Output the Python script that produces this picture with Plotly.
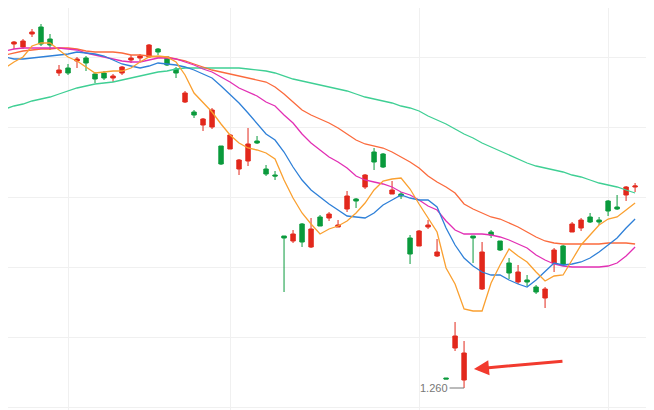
import numpy as np
import plotly.graph_objects as go

# prices in thousandths
opens = [1583, 1604, 1601, 1614, 1621, 1609, 1575, 1580, 1587, 1590,
         1574, 1575, 1570, 1575, 1588, 1590, 1591, 1599, 1591, 1579,
         1546, 1536, 1523, 1521, 1502, 1499, 1479, 1487, 1507, 1479,
         1473, 1412, 1407, 1424, 1401, 1431, 1430, 1421, 1439, 1449,
         1461, 1496, 1494, 1454, 1454, 1410, 1402, 1421, 1392, 1270,
         1300, 1268, 1412, 1359, 1416, 1407, 1385, 1366, 1368, 1361,
         1350, 1385, 1402, 1416, 1420, 1431, 1428, 1447, 1441, 1453, 1461]
highs = [1591, 1607, 1609, 1619, 1624, 1614, 1583, 1584, 1591, 1592,
         1576, 1577, 1574, 1582, 1593, 1594, 1604, 1600, 1591, 1581,
         1557, 1538, 1530, 1540, 1502, 1514, 1489, 1520, 1512, 1483,
         1477, 1412, 1418, 1425, 1430, 1433, 1436, 1428, 1457, 1450,
         1474, 1500, 1495, 1467, 1456, 1413, 1418, 1428, 1409, 1270,
         1326, 1307, 1412, 1406, 1418, 1407, 1390, 1383, 1373, 1363,
         1361, 1400, 1403, 1426, 1430, 1435, 1431, 1448, 1453, 1462, 1465]
lows = [1580, 1599, 1599, 1611, 1602, 1598, 1572, 1573, 1580, 1577,
        1565, 1568, 1566, 1573, 1585, 1587, 1590, 1593, 1582, 1570,
        1545, 1530, 1517, 1519, 1483, 1499, 1473, 1482, 1504, 1472,
        1468, 1356, 1405, 1401, 1400, 1422, 1427, 1421, 1436, 1440,
        1459, 1478, 1480, 1454, 1449, 1384, 1402, 1419, 1391, 1269,
        1297, 1260, 1385, 1358, 1410, 1397, 1369, 1364, 1362, 1354,
        1340, 1376, 1382, 1416, 1417, 1425, 1423, 1432, 1438, 1447, 1456]
closes = [1591, 1606, 1607, 1616, 1604, 1603, 1578, 1575, 1589, 1585,
          1569, 1570, 1572, 1581, 1590, 1592, 1603, 1596, 1583, 1575,
          1555, 1533, 1529, 1538, 1484, 1513, 1488, 1504, 1505, 1474,
          1472, 1410, 1414, 1406, 1419, 1422, 1434, 1423, 1452, 1447,
          1473, 1486, 1481, 1458, 1452, 1394, 1417, 1423, 1396, 1269,
          1312, 1295, 1410, 1396, 1413, 1398, 1375, 1376, 1366, 1356,
          1359, 1398, 1383, 1424, 1428, 1426, 1426, 1437, 1439, 1461, 1462]

ma5 = [1580, 1586, 1591, 1602, 1605, 1605, 1598, 1591, 1587, 1581,
       1575, 1576, 1577, 1577, 1580, 1586, 1591, 1592, 1591, 1586,
       1573, 1555, 1545, 1536, 1524, 1513, 1505, 1500, 1498, 1495,
       1489, 1468, 1450, 1435, 1424, 1414, 1419, 1422, 1427, 1435,
       1445, 1458, 1467, 1469, 1470, 1459, 1444, 1430, 1416, 1380,
       1364, 1339, 1337, 1337, 1365, 1383, 1399, 1392, 1386, 1376,
       1367, 1372, 1373, 1388, 1403, 1413, 1423, 1429, 1431, 1438, 1445]
ma10 = [1591, 1589, 1589, 1590, 1591, 1592, 1593, 1594, 1596, 1595,
        1594, 1592, 1588, 1584, 1582, 1580, 1582, 1585, 1584, 1583,
        1581, 1578, 1574, 1570, 1562, 1554, 1545, 1535, 1524, 1514,
        1508, 1496, 1481, 1468, 1458, 1451, 1444, 1438, 1432, 1431,
        1430, 1435, 1443, 1448, 1453, 1450, 1448, 1448, 1441, 1420,
        1403, 1390, 1382, 1376, 1373, 1373, 1368, 1364, 1361, 1368,
        1376, 1385, 1383, 1384, 1386, 1390, 1396, 1403, 1410, 1420, 1429]
ma20 = [1597, 1599, 1600, 1600, 1600, 1600, 1600, 1599, 1598, 1595,
        1593, 1591, 1589, 1587, 1586, 1586, 1588, 1590, 1590, 1589,
        1586, 1583, 1579, 1576, 1571, 1566, 1560, 1556, 1552, 1546,
        1542, 1533, 1525, 1514, 1505, 1498, 1491, 1486, 1480, 1472,
        1468, 1466, 1464, 1461, 1456, 1453, 1448, 1442, 1438, 1427,
        1418, 1414, 1414, 1414, 1413, 1411, 1408, 1404, 1400, 1393,
        1388, 1384, 1382, 1381, 1381, 1381, 1381, 1382, 1385, 1392, 1401]
ma30 = [1593, 1595, 1597, 1598, 1599, 1599, 1600, 1600, 1599, 1597,
        1596, 1596, 1596, 1595, 1593, 1593, 1592, 1591, 1591, 1589,
        1587, 1584, 1581, 1578, 1576, 1574, 1572, 1570, 1568, 1566,
        1561, 1554, 1546, 1538, 1533, 1529, 1525, 1520, 1514, 1508,
        1504, 1502, 1500, 1496, 1491, 1486, 1480, 1472, 1466, 1461,
        1455, 1444, 1439, 1435, 1431, 1429, 1425, 1421, 1416, 1411,
        1407, 1405, 1404, 1404, 1404, 1404, 1404, 1405, 1405, 1405, 1404]
ma60 = [1539, 1542, 1544, 1547, 1549, 1551, 1554, 1557, 1560, 1562,
        1564, 1565, 1566, 1568, 1570, 1572, 1574, 1576, 1577, 1579,
        1580, 1580, 1580, 1580, 1580, 1580, 1580, 1579, 1578, 1577,
        1575, 1572, 1569, 1567, 1565, 1563, 1561, 1559, 1557, 1554,
        1551, 1549, 1547, 1545, 1542, 1540, 1537, 1532, 1528, 1524,
        1519, 1514, 1510, 1505, 1501, 1497, 1493, 1489, 1485, 1482,
        1480, 1478, 1476, 1473, 1471, 1468, 1465, 1463, 1461, 1458, 1455]

x = list(range(len(opens)))
p = lambda a: np.array(a) / 1000

fig = go.Figure()
fig.add_trace(go.Candlestick(
    x=x, open=p(opens), high=p(highs), low=p(lows), close=p(closes),
    increasing=dict(line=dict(color='#e2281c', width=1), fillcolor='#e2281c'),
    decreasing=dict(line=dict(color='#0a9a3c', width=1), fillcolor='#0a9a3c'),
    whiskerwidth=0, showlegend=False, hoverinfo='skip'))

for vals, col in [(ma60, '#3fcf94'), (ma30, '#fb6a3c'), (ma20, '#e22fb4'),
                  (ma10, '#2f80d8'), (ma5, '#faa030')]:
    fig.add_trace(go.Scatter(x=x, y=p(vals), mode='lines',
                             line=dict(color=col, width=1.3), showlegend=False))

# low label and red arrow
fig.add_annotation(x=51, y=1.260, text='1.260', showarrow=True, arrowhead=0,
                   arrowcolor='#777', arrowwidth=1, ax=-30, ay=0,
                   font=dict(family='Arial', size=11, color='#777'))
fig.add_annotation(x=52.1, y=1.279, text='', showarrow=True, arrowhead=2,
                   arrowsize=1, arrowcolor='#f23a2e', arrowwidth=3, ax=90, ay=-8)

# the page body has an 8px margin, so the ranges are shifted to compensate
fig.update_layout(
    width=654, height=410, margin=dict(l=0, r=0, t=0, b=0),
    paper_bgcolor='white', plot_bgcolor='white',
    xaxis=dict(range=[0.333, 72.99], rangeslider=dict(visible=False),
               tickvals=[7, 25, 46.1, 67], showticklabels=False,
               showgrid=True, gridcolor='#f0f0f0', zeroline=False),
    yaxis=dict(range=[1.230, 1.640], tick0=1.311, dtick=0.07,
               showticklabels=False, showgrid=True, gridcolor='#f0f0f0',
               zeroline=False))

fig.write_html("out.html")
